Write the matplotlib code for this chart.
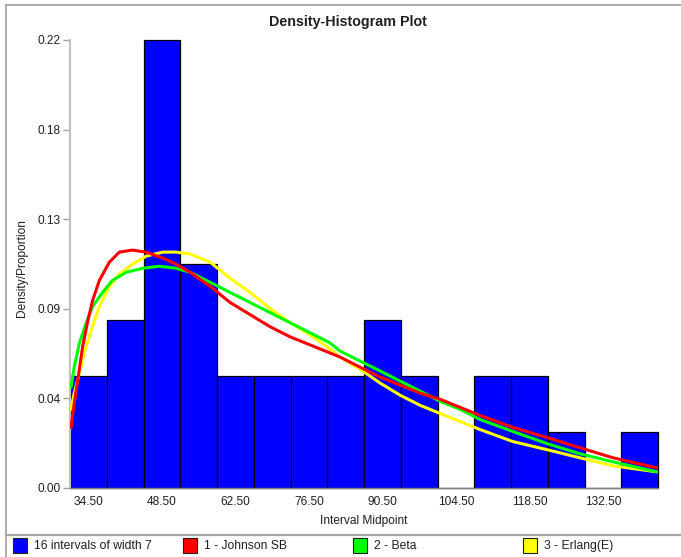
import matplotlib
matplotlib.use('Agg')
import matplotlib.pyplot as plt
from matplotlib.patches import Rectangle
from matplotlib.lines import Line2D

plt.rcParams['font.family'] = ['Liberation Sans', 'DejaVu Sans']

# Histogram: 16 intervals of width 7 (proportions, n = 36)
midpoints = [34.5, 41.5, 48.5, 55.5, 62.5, 69.5, 76.5, 83.5,
             90.5, 97.5, 104.5, 111.5, 118.5, 125.5, 132.5, 139.5]
proportions = [0.0556, 0.0833, 0.2222, 0.1111, 0.0556, 0.0556, 0.0556, 0.0556,
               0.0833, 0.0556, 0.0, 0.0556, 0.0556, 0.0278, 0.0, 0.0278]
bin_width = 7

# Fitted densities
johnson_x = [31.2, 31.8, 32.5, 33.4, 34.4, 35.3, 36.6, 38.5, 40.4, 42.9, 45.5, 48.7,
             51.2, 53.9, 57.7, 61.5, 65.3, 69.1, 72.9, 76.7, 80.5, 82.4, 86.2, 90.1,
             93.9, 97.7, 101.5, 105.3, 109.1, 115.4, 121.9, 128.1, 134.4, 142.8]
johnson_y = [0.030, 0.042, 0.054, 0.070, 0.083, 0.093, 0.103, 0.112, 0.117, 0.118, 0.117, 0.114,
             0.111, 0.107, 0.100, 0.092, 0.086, 0.080, 0.075, 0.071, 0.067, 0.065, 0.060, 0.055,
             0.051, 0.047, 0.044, 0.040, 0.036, 0.030, 0.025, 0.020, 0.015, 0.010]

beta_x = [31.2, 31.8, 32.8, 34.1, 35.3, 37.2, 39.1, 41.7, 44.9, 48.0, 51.2, 53.9,
          57.7, 61.5, 65.3, 69.1, 72.9, 76.7, 80.5, 82.4, 86.2, 90.1, 93.9, 97.7,
          101.5, 105.3, 109.1, 115.4, 121.9, 128.1, 134.4, 142.8]
beta_y = [0.050, 0.060, 0.072, 0.082, 0.090, 0.097, 0.103, 0.107, 0.109, 0.110, 0.109, 0.107,
          0.102, 0.097, 0.092, 0.087, 0.082, 0.077, 0.072, 0.068, 0.063, 0.058, 0.053, 0.048,
          0.043, 0.039, 0.034, 0.028, 0.022, 0.017, 0.013, 0.008]

erlang_x = [31.2, 31.8, 32.8, 33.7, 35.0, 36.6, 38.5, 40.4, 42.9, 45.5, 48.7, 51.2,
            53.9, 57.7, 61.5, 65.3, 69.1, 72.9, 76.7, 80.5, 82.4, 86.2, 90.1, 93.9,
            97.7, 101.5, 105.3, 109.1, 115.4, 121.9, 128.1, 134.4, 142.8]
erlang_y = [0.039, 0.047, 0.057, 0.067, 0.078, 0.090, 0.100, 0.106, 0.111, 0.115, 0.117, 0.117,
            0.116, 0.112, 0.104, 0.097, 0.089, 0.082, 0.076, 0.069, 0.065, 0.059, 0.052, 0.046,
            0.041, 0.037, 0.033, 0.029, 0.023, 0.019, 0.015, 0.011, 0.008]

xtick_vals = [34.5, 48.5, 62.5, 76.5, 90.5, 104.5, 118.5, 132.5]
ytick_vals = [0.0, 0.0444, 0.0889, 0.1333, 0.1778, 0.2222]

legend_labels = ['16 intervals of width 7', '1 - Johnson SB', '2 - Beta', '3 - Erlang(E)']
legend_colors = ['#0000ff', '#ff0000', '#00ff00', '#ffff00']

W, H = 681, 557
fig = plt.figure(figsize=(W / 100, H / 100), dpi=100)
ax = fig.add_axes([70 / W, 69 / H, 588 / W, 448 / H])

ax.bar(midpoints, proportions, width=bin_width, color='#0000ff',
       edgecolor='black', linewidth=0.9, zorder=2, clip_on=False)
ax.plot(erlang_x, erlang_y, color='#ffff00', lw=2.2, zorder=3, solid_capstyle='round')
ax.plot(beta_x, beta_y, color='#00ff00', lw=2.2, zorder=4, solid_capstyle='round')
ax.plot(johnson_x, johnson_y, color='#ff0000', lw=2.2, zorder=5, solid_capstyle='round')

ax.set_xlim(31, 143)
ax.set_ylim(0, 0.2222)
ax.set_xticks(xtick_vals)
ax.set_xticklabels(['%.2f' % v for v in xtick_vals])
ax.set_yticks(ytick_vals)
ax.set_yticklabels(['%.2f' % v for v in ytick_vals])
ax.tick_params(axis='x', length=0, pad=6, labelsize=8.6, labelcolor='#202020')
ax.tick_params(axis='y', length=5, width=1, color='#a0a0a0', pad=2,
               labelsize=8.6, labelcolor='#202020')

for s in ['top', 'right']:
    ax.spines[s].set_visible(False)
ax.spines['left'].set_color('#c0c0c0')
ax.spines['left'].set_linewidth(1.5)
ax.spines['bottom'].set_color('#808080')
ax.spines['bottom'].set_linewidth(1)

ax.set_xlabel('Interval Midpoint', fontsize=8.6, color='#202020', va='top')
ax.xaxis.set_label_coords(0.5, -0.061)
ax.set_ylabel('Density/Proportion', fontsize=8.6, color='#202020')
ax.yaxis.set_label_coords(-0.071, 0.49)

fig.text(348 / W, 1 - 22 / H, 'Density-Histogram Plot', ha='center', va='center',
         fontsize=10.3, fontweight='bold', color='#202020')

# outer frame and legend separator
fig.add_artist(Line2D([6 / W, 1], [1 - 5 / H, 1 - 5 / H], color='#a0a0a0', lw=1.2))
fig.add_artist(Line2D([6 / W, 6 / W], [0, 1 - 5 / H], color='#a0a0a0', lw=1.2))
fig.add_artist(Line2D([6 / W, 1], [1 - 535 / H, 1 - 535 / H], color='#a8a8a8', lw=1.6))

# legend strip
for i in range(len(legend_labels)):
    x0 = 13 + 170 * i
    fig.add_artist(Rectangle((x0 / W, 1 - 553 / H), 14 / W, 15 / H,
                             facecolor=legend_colors[i], edgecolor='#202020', lw=0.8))
    fig.text((x0 + 21) / W, 1 - 546 / H, legend_labels[i], ha='left', va='center',
             fontsize=8.7, color='#202020')

fig.savefig('out.png', dpi=100)
